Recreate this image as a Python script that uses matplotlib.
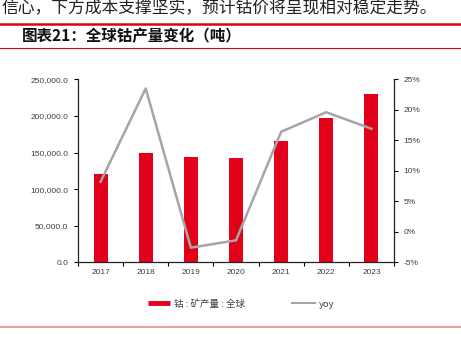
import matplotlib
matplotlib.use("Agg")
import matplotlib.pyplot as plt
from matplotlib.lines import Line2D
from matplotlib.ticker import FuncFormatter, MultipleLocator

plt.rcParams['font.family'] = ['Noto Sans CJK SC', 'DejaVu Sans']

years = ['2017', '2018', '2019', '2020', '2021', '2022', '2023']
output = [120200, 148900, 143900, 142500, 165700, 197500, 229900]
yoy = [8.2, 23.5, -2.6, -1.4, 16.4, 19.6, 16.9]

red = '#E2001A'
gray = '#A6A6A6'
tick_col = '#404040'

W, H = 461, 352
fig = plt.figure(figsize=(W / 100, H / 100), dpi=100)

# header text and rules
fig.text(1 / W, 1 - 9 / H, '信心，下方成本支撑坚实，预计钴价将呈现相对稳定走势。',
         fontsize=12.1, va='center', ha='left', color='#222222')
fig.add_artist(Line2D([0, 1], [1 - 24 / H, 1 - 24 / H], color='#D9001B', lw=1.8))
fig.text(22 / W, 1 - 36 / H, '图表21：全球钴产量变化（吨）', fontsize=11.2,
         fontweight='bold', va='center', ha='left', color='#111111')
fig.add_artist(Line2D([0, 1], [1 - 48 / H, 1 - 48 / H], color='#D9001B', lw=0.8))
fig.add_artist(Line2D([0, 1], [1 - 327 / H, 1 - 327 / H], color='#E8A0A0', lw=1.5))

ax = fig.add_axes([78 / W, 89.7 / H, (394 - 78) / W, (262.3 - 79.3) / H])
x = range(len(years))
ax.bar(x, output, width=0.31, color=red, zorder=2)
ax.set_xlim(-0.5, len(years) - 0.5)
ax.set_ylim(0, 250000)
ax.yaxis.set_major_locator(MultipleLocator(50000))
ax.yaxis.set_major_formatter(FuncFormatter(lambda v, p: f'{v:,.1f}'))
ax.set_xticks(list(x))
ax.set_xticklabels(years)
ax.set_xticks([i + 0.5 for i in range(-1, len(years))], minor=True)
ax.tick_params(axis='x', which='major', length=0, pad=5)
ax.tick_params(axis='x', which='minor', length=3, width=0.8, direction='out')
ax.tick_params(axis='y', length=3, width=0.8, direction='out', pad=4)
for sp in ['left', 'bottom']:
    ax.spines[sp].set_linewidth(0.9)
    ax.spines[sp].set_color('#222222')
ax.spines['top'].set_visible(False)
ax.spines['right'].set_visible(False)

ax2 = ax.twinx()
ax2.plot(list(x), yoy, color=gray, lw=1.8, zorder=3)
ax2.set_ylim(-5, 25)
ax2.yaxis.set_major_locator(MultipleLocator(5))
ax2.yaxis.set_major_formatter(FuncFormatter(lambda v, p: f'{v:.0f}%'))
ax2.tick_params(axis='y', length=3, width=0.8, direction='out', pad=4)
ax2.spines['right'].set_linewidth(0.9)
ax2.spines['right'].set_color('#222222')
ax2.spines['top'].set_visible(False)
ax2.spines['left'].set_visible(False)
ax2.spines['bottom'].set_visible(False)

for a in (ax, ax2):
    for lab in a.get_xticklabels() + a.get_yticklabels():
        lab.set_fontfamily(['Liberation Sans', 'DejaVu Sans'])
        lab.set_fontsize(6)
        lab.set_color(tick_col)

handles = [Line2D([], [], color=red, lw=3.5, solid_capstyle='butt'),
           Line2D([], [], color=gray, lw=1.5)]
fig.legend(handles, ['钴 : 矿产量 : 全球', 'yoy'], loc='center',
           bbox_to_anchor=(241 / W, 1 - 304 / H), ncol=2, frameon=False,
           fontsize=6.8, handlelength=2.4, handletextpad=0.4,
           columnspacing=5.0, labelcolor=tick_col)

fig.savefig('out.png', dpi=100)
